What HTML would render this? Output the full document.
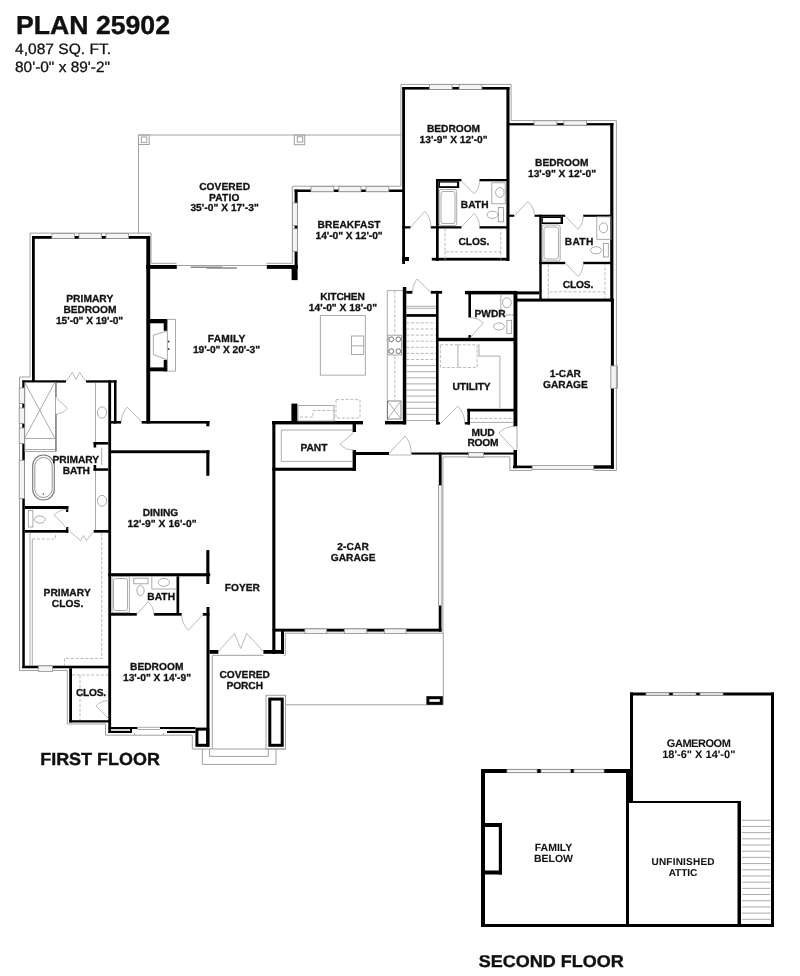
<!DOCTYPE html>
<html><head><meta charset="utf-8">
<style>
html,body{margin:0;padding:0;background:#fff;width:800px;height:976px;overflow:hidden}
svg{display:block;will-change:transform}
text{font-family:"Liberation Sans",sans-serif;fill:#111;text-rendering:geometricPrecision}
.b{font-weight:bold;stroke:#111;stroke-width:0.4}
.lbl{font-weight:bold;stroke:#111;stroke-width:0.3}
.w{fill:none;stroke:#000;stroke-width:3}
.o{fill:none;stroke:#a0a0a0;stroke-width:1}
.win{fill:#f4f4f4;stroke:#909090;stroke-width:0.8}
.t{fill:none;stroke:#959595;stroke-width:0.8}
.dr{fill:none;stroke:#a4a4a4;stroke-width:0.75}
.ds{fill:none;stroke:#a8a8a8;stroke-width:0.8;stroke-dasharray:3 1.8}
</style></head><body>
<svg width="800" height="976" viewBox="0 0 800 976">
<text x="16.00" y="33.60" class="b" font-size="26" text-anchor="start" textLength="154" lengthAdjust="spacingAndGlyphs">PLAN 25902</text>
<text x="15" y="54.4" font-size="15" style="stroke:#111;stroke-width:0.3" textLength="96" lengthAdjust="spacingAndGlyphs">4,087 SQ. FT.</text>
<text x="15" y="72.4" font-size="15" style="stroke:#111;stroke-width:0.3" textLength="95" lengthAdjust="spacingAndGlyphs">80'-0" x 89'-2"</text>
<rect x="481.00" y="769.00" width="149.00" height="4.00" fill="#000"/>
<rect x="481.00" y="769.00" width="4.00" height="158.00" fill="#000"/>
<rect x="481.00" y="924.00" width="293.00" height="3.00" fill="#000"/>
<rect x="626.00" y="769.00" width="7.00" height="32.00" fill="#000"/>
<rect x="626.00" y="801.00" width="3.00" height="126.00" fill="#000"/>
<rect x="630.00" y="692.50" width="3.00" height="108.50" fill="#000"/>
<rect x="630.00" y="692.50" width="144.00" height="3.00" fill="#000"/>
<rect x="771.00" y="692.50" width="3.00" height="234.50" fill="#000"/>
<rect x="626.00" y="801.00" width="115.00" height="2.00" fill="#000"/>
<rect x="737.50" y="801.00" width="3.50" height="126.00" fill="#000"/>
<rect x="485.00" y="823.00" width="17.00" height="4.00" fill="#000"/>
<rect x="498.80" y="823.00" width="3.20" height="51.50" fill="#000"/>
<rect x="485.00" y="870.50" width="17.00" height="4.00" fill="#000"/>
<rect x="507.00" y="769.30" width="30.00" height="3.40" class="win"/>
<rect x="541.00" y="769.30" width="29.50" height="3.40" class="win"/>
<rect x="574.00" y="769.30" width="30.00" height="3.40" class="win"/>
<rect x="646.00" y="692.80" width="23.00" height="2.40" class="win"/>
<rect x="673.00" y="692.80" width="23.00" height="2.40" class="win"/>
<rect x="700.00" y="692.80" width="23.00" height="2.40" class="win"/>
<line class="t" x1="742.00" y1="820.25" x2="770.50" y2="820.25"/>
<line class="t" x1="742.00" y1="826.44" x2="770.50" y2="826.44"/>
<line class="t" x1="742.00" y1="832.63" x2="770.50" y2="832.63"/>
<line class="t" x1="742.00" y1="838.82" x2="770.50" y2="838.82"/>
<line class="t" x1="742.00" y1="845.01" x2="770.50" y2="845.01"/>
<line class="t" x1="742.00" y1="851.20" x2="770.50" y2="851.20"/>
<line class="t" x1="742.00" y1="857.39" x2="770.50" y2="857.39"/>
<line class="t" x1="742.00" y1="863.58" x2="770.50" y2="863.58"/>
<line class="t" x1="742.00" y1="869.77" x2="770.50" y2="869.77"/>
<line class="t" x1="742.00" y1="875.96" x2="770.50" y2="875.96"/>
<line class="t" x1="742.00" y1="882.15" x2="770.50" y2="882.15"/>
<line class="t" x1="742.00" y1="888.34" x2="770.50" y2="888.34"/>
<line class="t" x1="742.00" y1="894.53" x2="770.50" y2="894.53"/>
<line class="t" x1="742.00" y1="900.72" x2="770.50" y2="900.72"/>
<line class="t" x1="742.00" y1="906.91" x2="770.50" y2="906.91"/>
<line class="t" x1="742.00" y1="913.10" x2="770.50" y2="913.10"/>
<line class="t" x1="742.00" y1="919.29" x2="770.50" y2="919.29"/>
<text x="553.50" y="851.00" class="lbl" font-size="10.5" text-anchor="middle" style="stroke-width:0.05">FAMILY</text>
<text x="553.50" y="862.20" class="lbl" font-size="10.5" text-anchor="middle" style="stroke-width:0.05">BELOW</text>
<text x="683.00" y="865.00" class="lbl" font-size="10.0" text-anchor="middle" textLength="63" lengthAdjust="spacing" style="stroke-width:0.05">UNFINISHED</text>
<text x="683.00" y="876.20" class="lbl" font-size="10.0" text-anchor="middle" style="stroke-width:0.05">ATTIC</text>
<text x="698.80" y="746.70" class="lbl" font-size="11.0" text-anchor="middle" textLength="64" lengthAdjust="spacing" style="stroke-width:0.05">GAMEROOM</text>
<text x="698.80" y="757.70" class="lbl" font-size="11.0" text-anchor="middle" style="stroke-width:0.05">18'-6" X 14'-0"</text>
<text x="478.80" y="967.00" class="b" font-size="17" text-anchor="start" textLength="145" lengthAdjust="spacingAndGlyphs">SECOND FLOOR</text>
<path class="o" d="M400.90 186.00 L400.90 84.40 L511.10 84.40 L511.10 120.60 L616.40 120.60 L616.40 300.00"/>
<rect x="402.20" y="87.00" width="107.30" height="2.60" fill="#000"/>
<rect x="402.20" y="87.00" width="2.80" height="177.00" fill="#000"/>
<rect x="402.20" y="257.00" width="6.80" height="4.00" fill="#000"/>
<rect x="506.40" y="87.00" width="3.10" height="174.00" fill="#000"/>
<rect x="429.40" y="84.60" width="22.70" height="4.80" class="win"/>
<rect x="459.10" y="84.60" width="22.80" height="4.80" class="win"/>
<text x="453.50" y="132.20" class="lbl" font-size="10.2" text-anchor="middle" textLength="53.1" lengthAdjust="spacing">BEDROOM</text>
<text x="453.60" y="143.20" class="lbl" font-size="10.2" text-anchor="middle" textLength="68" lengthAdjust="spacing">13'-9" X 12'-0"</text>
<rect x="436.00" y="179.00" width="2.70" height="82.00" fill="#000"/>
<rect x="436.00" y="179.00" width="25.50" height="2.30" fill="#000"/>
<rect x="479.50" y="179.00" width="29.50" height="2.30" fill="#000"/>
<rect x="402.20" y="226.20" width="8.30" height="2.30" fill="#000"/>
<rect x="430.80" y="226.20" width="30.70" height="2.30" fill="#000"/>
<rect x="479.50" y="226.20" width="29.50" height="2.30" fill="#000"/>
<rect x="431.80" y="257.80" width="77.20" height="2.80" fill="#000"/>
<rect x="438.70" y="181.30" width="20.50" height="6.70" fill="#000"/>
<rect x="440.00" y="182.60" width="17.00" height="3.60" fill="#fff"/>
<rect x="439.2" y="189.5" width="17.5" height="36" rx="2" class="t"/>
<rect x="441" y="191.5" width="14" height="32" rx="2" class="t"/>
<rect x="491.8" y="182.8" width="13.4" height="21" class="t"/>
<ellipse cx="499.8" cy="192.5" rx="4.2" ry="5" class="t"/>
<rect x="498.3" y="207.5" width="5.2" height="14.3" class="t"/>
<ellipse cx="492.5" cy="214.8" rx="5.5" ry="3.6" class="t"/>
<path class="dr" d="M461.50 181.00 L474.20 193.70 A17.96 17.96 0 0 0 479.50 181.00"/>
<path class="dr" d="M461.50 227.00 L474.20 213.50 A18.53 18.53 0 0 1 479.50 227.00"/>
<path class="dr" d="M410.50 227.30 L424.80 211.30 A21.46 21.46 0 0 1 430.80 227.30"/>
<path class="ds" d="M445 228.5 V251.8 H500.8 V228.5 M445 251.8 V260 M500.8 251.8 V260"/>
<text x="474.60" y="207.70" class="lbl" font-size="10.2" text-anchor="middle" textLength="27.8" lengthAdjust="spacing">BATH</text>
<text x="473.90" y="244.90" class="lbl" font-size="10.2" text-anchor="middle" textLength="30.8" lengthAdjust="spacing">CLOS.</text>
<rect x="507.00" y="123.10" width="106.40" height="2.30" fill="#000"/>
<rect x="610.20" y="123.10" width="3.20" height="178.50" fill="#000"/>
<rect x="534.10" y="120.80" width="22.80" height="4.40" class="win"/>
<rect x="563.90" y="120.80" width="22.70" height="4.40" class="win"/>
<text x="561.70" y="166.10" class="lbl" font-size="10.2" text-anchor="middle" textLength="53.4" lengthAdjust="spacing">BEDROOM</text>
<text x="562.00" y="177.00" class="lbl" font-size="10.2" text-anchor="middle" textLength="68" lengthAdjust="spacing">13'-9" X 12'-0"</text>
<rect x="507.00" y="214.70" width="7.20" height="2.10" fill="#000"/>
<rect x="534.50" y="214.70" width="30.70" height="2.10" fill="#000"/>
<rect x="583.20" y="214.70" width="29.80" height="2.10" fill="#000"/>
<rect x="539.30" y="214.70" width="2.40" height="86.30" fill="#000"/>
<rect x="539.30" y="261.80" width="25.90" height="2.40" fill="#000"/>
<rect x="583.20" y="261.80" width="29.80" height="2.40" fill="#000"/>
<rect x="541.70" y="216.80" width="21.30" height="7.20" fill="#000"/>
<rect x="542.80" y="218.00" width="17.80" height="4.40" fill="#fff"/>
<rect x="542.2" y="225" width="18" height="36" rx="2" class="t"/>
<rect x="544" y="227" width="14.4" height="32" rx="2" class="t"/>
<rect x="596.8" y="216.8" width="14.2" height="22.5" class="t"/>
<ellipse cx="603.5" cy="227.8" rx="4.2" ry="5" class="t"/>
<rect x="603.5" y="243.5" width="4.8" height="13.5" class="t"/>
<ellipse cx="596" cy="250.3" rx="5.5" ry="3.6" class="t"/>
<path class="dr" d="M565.20 216.00 L578.00 229.30 A18.46 18.46 0 0 0 583.20 216.00"/>
<path class="dr" d="M565.20 263.00 L578.00 276.50 A18.60 18.60 0 0 0 583.20 263.00"/>
<path class="dr" d="M514.20 216.00 L527.80 201.50 A19.88 19.88 0 0 1 534.50 216.00"/>
<path class="ds" d="M548.3 264.2 V291.8 H605 V264.2 M548.3 291.8 V299 M605 291.8 V299"/>
<text x="579.00" y="245.20" class="lbl" font-size="10.2" text-anchor="middle" textLength="28.5" lengthAdjust="spacing">BATH</text>
<text x="578.00" y="287.50" class="lbl" font-size="10.2" text-anchor="middle" textLength="30.6" lengthAdjust="spacing">CLOS.</text>
<rect x="465.50" y="291.40" width="73.80" height="3.00" fill="#000"/>
<rect x="515.00" y="298.60" width="98.40" height="3.00" fill="#000"/>
<path class="o" d="M138.50 233.20 L138.50 135.00 L401.00 135.00"/>
<rect x="138.5" y="135" width="10.7" height="9.5" class="o"/>
<rect x="141.3" y="137" width="5.5" height="5.5" class="o"/>
<rect x="294.3" y="135" width="10.4" height="9.7" class="o"/>
<rect x="297.3" y="136.8" width="5.5" height="5.3" class="o"/>
<path class="o" d="M30.00 377.00 L30.00 233.10 L151.00 233.10 L151.00 263.30 L176.50 263.30"/>
<path class="o" d="M266.50 263.30 L292.30 263.30 L292.30 186.20 L400.90 186.20"/>
<rect x="32.00" y="236.00" width="118.00" height="2.80" fill="#000"/>
<rect x="32.00" y="236.00" width="2.80" height="146.00" fill="#000"/>
<rect x="146.30" y="236.00" width="3.90" height="187.50" fill="#000"/>
<rect x="51.90" y="233.40" width="22.50" height="5.20" class="win"/>
<rect x="79.00" y="233.40" width="22.60" height="5.20" class="win"/>
<rect x="106.00" y="233.40" width="22.50" height="5.20" class="win"/>
<text x="89.70" y="301.70" class="lbl" font-size="10.2" text-anchor="middle" textLength="47" lengthAdjust="spacing">PRIMARY</text>
<text x="89.90" y="312.50" class="lbl" font-size="10.2" text-anchor="middle" textLength="53" lengthAdjust="spacing">BEDROOM</text>
<text x="89.60" y="323.50" class="lbl" font-size="10.2" text-anchor="middle" textLength="67.2" lengthAdjust="spacing">15'-0" X 19'-0"</text>
<rect x="146.30" y="265.00" width="30.50" height="3.90" fill="#000"/>
<rect x="266.80" y="265.00" width="30.80" height="3.90" fill="#000"/>
<rect x="291.60" y="265.00" width="6.00" height="15.10" fill="#000"/>
<line class="o" x1="176.80" y1="265.50" x2="266.80" y2="265.50"/>
<path d="M190.8 267.2 H222.3 M206.5 268 H236.9" stroke="#8a8a8a" stroke-width="1.4" fill="none"/>
<rect x="294.60" y="189.50" width="110.40" height="2.50" fill="#000"/>
<rect x="294.60" y="189.50" width="3.00" height="78.50" fill="#000"/>
<rect x="311.00" y="186.60" width="22.80" height="5.20" class="win"/>
<rect x="338.80" y="186.60" width="22.20" height="5.20" class="win"/>
<rect x="366.00" y="186.60" width="22.80" height="5.20" class="win"/>
<rect x="292.50" y="203.00" width="4.90" height="22.50" class="win"/>
<rect x="292.50" y="228.80" width="4.90" height="22.50" class="win"/>
<text x="349.10" y="228.30" class="lbl" font-size="10.2" text-anchor="middle" textLength="63" lengthAdjust="spacing">BREAKFAST</text>
<text x="349.10" y="239.30" class="lbl" font-size="10.2" text-anchor="middle" textLength="67" lengthAdjust="spacing">14'-0" X 12'-0"</text>
<text x="224.60" y="190.00" class="lbl" font-size="10.2" text-anchor="middle" textLength="50.9" lengthAdjust="spacing">COVERED</text>
<text x="224.20" y="201.00" class="lbl" font-size="10.2" text-anchor="middle" textLength="30.4" lengthAdjust="spacing">PATIO</text>
<text x="224.60" y="211.40" class="lbl" font-size="10.2" text-anchor="middle" textLength="68.4" lengthAdjust="spacing">35'-0" X 17'-3"</text>
<rect x="150.00" y="319.00" width="17.30" height="4.30" fill="#000"/>
<rect x="150.00" y="367.40" width="17.30" height="3.90" fill="#000"/>
<rect x="163.70" y="319.00" width="3.60" height="11.80" fill="#000"/>
<rect x="163.70" y="359.90" width="3.60" height="11.40" fill="#000"/>
<rect x="167.3" y="319.3" width="8.2" height="51.8" class="t"/>
<path class="t" d="M167.3 331 L153.4 335.3 V354.6 L167.3 359.9"/>
<circle cx="168.6" cy="341.5" r="0.9" fill="#333"/><circle cx="168.6" cy="349" r="0.9" fill="#333"/>
<text x="226.50" y="341.70" class="lbl" font-size="10.2" text-anchor="middle" textLength="37.5" lengthAdjust="spacing">FAMILY</text>
<text x="226.50" y="352.50" class="lbl" font-size="10.2" text-anchor="middle" textLength="67" lengthAdjust="spacing">19'-0" X 20'-3"</text>
<rect x="111.00" y="421.00" width="10.00" height="2.60" fill="#000"/>
<rect x="141.60" y="421.00" width="67.80" height="2.60" fill="#000"/>
<rect x="206.30" y="421.00" width="3.10" height="5.30" fill="#000"/>
<path class="dr" d="M141.60 422.00 L127.30 407.10 A20.65 20.65 0 0 0 121.40 422.00"/>
<rect x="111.00" y="450.30" width="98.40" height="2.90" fill="#000"/>
<rect x="206.30" y="450.30" width="3.10" height="25.50" fill="#000"/>
<rect x="206.30" y="550.10" width="3.10" height="33.90" fill="#000"/>
<rect x="108.30" y="573.20" width="101.90" height="3.10" fill="#000"/>
<text x="160.50" y="515.70" class="lbl" font-size="10.2" text-anchor="middle" textLength="35.6" lengthAdjust="spacing">DINING</text>
<text x="162.00" y="527.20" class="lbl" font-size="10.2" text-anchor="middle" textLength="69" lengthAdjust="spacing">12'-9" X 16'-0"</text>
<text x="242.30" y="591.20" class="lbl" font-size="10.2" text-anchor="middle" textLength="35" lengthAdjust="spacing">FOYER</text>
<path class="o" d="M30.00 377.00 L19.50 377.00 L19.50 670.50 L67.30 670.50 L67.30 724.00 L105.50 724.00 L105.50 735.20 L192.30 735.20"/>
<rect x="22.50" y="380.30" width="43.50" height="2.30" fill="#000"/>
<rect x="86.00" y="380.30" width="30.50" height="2.30" fill="#000"/>
<rect x="22.30" y="380.30" width="2.50" height="287.20" fill="#000"/>
<rect x="19.20" y="388.00" width="5.40" height="15.50" class="win"/>
<rect x="19.20" y="408.00" width="5.40" height="15.50" class="win"/>
<rect x="19.20" y="428.00" width="5.40" height="15.50" class="win"/>
<rect x="19.20" y="460.30" width="5.40" height="38.20" class="win"/>
<rect x="108.30" y="380.30" width="2.80" height="352.70" fill="#000"/>
<rect x="114.00" y="380.30" width="2.50" height="43.20" fill="#000"/>
<path class="dr" d="M66 381.5 L72.3 372.3 L76 379.5 L79.7 372.3 L86 381.5"/>
<rect x="24.8" y="382.6" width="30.7" height="68.9" class="t"/>
<path class="t" d="M25 383 L54.5 437.5 M54.5 383 L25 437.5 M24.8 438.5 H55.5 M24.8 449.5 H56.5"/>
<path d="M56 382.6 V397 M56 414 V451.5" stroke="#8a8a8a" stroke-width="1.6" fill="none"/>
<path class="dr" d="M56.00 397.50 L67.50 408.50 A15.91 15.91 0 0 1 56.00 414.00"/>
<path class="t" d="M95.5 382.6 V442"/>
<ellipse cx="102" cy="412.5" rx="4.6" ry="5.6" class="t"/>
<rect x="93.60" y="442.00" width="14.70" height="2.60" fill="#000"/>
<rect x="93.60" y="442.00" width="2.60" height="5.50" fill="#000"/>
<rect x="93.60" y="468.30" width="14.70" height="2.50" fill="#000"/>
<rect x="93.60" y="465.00" width="2.60" height="5.80" fill="#000"/>
<path class="t" d="M101.7 447.5 V465 M95.5 470.8 V530.7"/>
<ellipse cx="102" cy="500.8" rx="4.6" ry="5.4" class="t"/>
<rect x="32.7" y="455" width="21.6" height="45" rx="10.8" class="t" style="stroke-width:1.1;stroke:#777"/>
<rect x="34.8" y="457.5" width="17.4" height="40" rx="8.7" class="t" style="stroke:#777"/>
<circle cx="43.4" cy="494" r="0.8" fill="#444"/>
<text x="75.80" y="463.00" class="lbl" font-size="10.2" text-anchor="middle" textLength="46.5" lengthAdjust="spacing">PRIMARY</text>
<text x="76.30" y="474.20" class="lbl" font-size="10.2" text-anchor="middle" textLength="27.3" lengthAdjust="spacing">BATH</text>
<rect x="24.80" y="506.00" width="43.50" height="3.00" fill="#000"/>
<rect x="66.00" y="506.00" width="2.30" height="6.00" fill="#000"/>
<rect x="24.80" y="530.00" width="43.50" height="2.70" fill="#000"/>
<rect x="66.00" y="527.00" width="2.30" height="5.70" fill="#000"/>
<rect x="93.70" y="530.00" width="17.30" height="2.70" fill="#000"/>
<rect x="28.3" y="510.5" width="4.6" height="16.5" class="t"/>
<ellipse cx="39.8" cy="519.5" rx="5.4" ry="3.6" class="t"/>
<path class="dr" d="M67.50 528.80 L54.00 515.00 A19.31 19.31 0 0 1 67.50 509.30"/>
<path class="dr" d="M69.8 531.5 L80.5 540.5 L83.5 535.5 L86.5 540.5 L93.5 531.5"/>
<rect x="22.30" y="665.70" width="88.70" height="2.60" fill="#000"/>
<rect x="38.30" y="665.90" width="14.20" height="5.50" class="win"/>
<path class="t" d="M30 532.7 V665.7 M32.3 539 V665.7"/>
<path class="ds" d="M32.3 539 H55.5 V532.7 M101.7 532.7 V658.5 H64.5 V665.7"/>
<text x="67.10" y="596.00" class="lbl" font-size="10.2" text-anchor="middle" textLength="47.2" lengthAdjust="spacing">PRIMARY</text>
<text x="67.50" y="607.20" class="lbl" font-size="10.2" text-anchor="middle" textLength="31.5" lengthAdjust="spacing">CLOS.</text>
<rect x="69.20" y="668.30" width="2.80" height="54.10" fill="#000"/>
<rect x="69.20" y="720.20" width="40.80" height="2.30" fill="#000"/>
<path class="ds" d="M72 675 H108.3 M80 675 V720.2"/>
<path class="dr" d="M109.00 719.00 L96.00 706.00 A18.38 18.38 0 0 1 109.00 700.50"/>
<text x="91.00" y="695.70" class="lbl" font-size="10.2" text-anchor="middle" textLength="30" lengthAdjust="spacing">CLOS.</text>
<rect x="108.50" y="727.00" width="29.00" height="2.00" fill="#000"/>
<rect x="108.50" y="731.00" width="23.50" height="2.00" fill="#000"/>
<rect x="130.00" y="727.00" width="2.00" height="6.00" fill="#000"/>
<path class="t" d="M110.5 730 H129.5 M137.5 727.3 H160 M137.5 729.5 H160 M134.5 733 V735 M163.5 733 V735"/>
<rect x="160.00" y="727.00" width="35.40" height="2.00" fill="#000"/>
<rect x="167.00" y="731.00" width="28.40" height="2.00" fill="#000"/>
<path class="t" d="M169 730 H195"/>
<text x="156.70" y="669.70" class="lbl" font-size="10.2" text-anchor="middle" textLength="53.4" lengthAdjust="spacing">BEDROOM</text>
<text x="157.00" y="680.70" class="lbl" font-size="10.2" text-anchor="middle" textLength="68" lengthAdjust="spacing">13'-0" X 14'-9"</text>
<rect x="176.50" y="576.30" width="2.70" height="38.20" fill="#000"/>
<rect x="111.00" y="613.00" width="25.80" height="2.70" fill="#000"/>
<rect x="154.00" y="613.00" width="27.80" height="2.70" fill="#000"/>
<rect x="202.80" y="613.00" width="6.70" height="2.70" fill="#000"/>
<rect x="206.50" y="607.00" width="3.00" height="139.80" fill="#000"/>
<rect x="112" y="576.5" width="17.3" height="36.2" class="t"/>
<rect x="113.5" y="578.5" width="14" height="32" rx="2" class="t"/>
<rect x="133.8" y="578.2" width="14.2" height="5.6" class="t"/>
<ellipse cx="140.5" cy="590.5" rx="3.6" ry="5.2" class="t"/>
<path class="t" d="M151.8 576.3 V589 H176.5"/>
<ellipse cx="163.8" cy="582.3" rx="5.6" ry="4" class="t"/>
<path class="dr" d="M136.80 614.30 L148.00 601.80 A16.78 16.78 0 0 1 154.00 614.30"/>
<path class="dr" d="M202.80 614.50 L188.50 630.30 A21.31 21.31 0 0 1 181.80 614.50"/>
<text x="161.10" y="600.00" class="lbl" font-size="10.2" text-anchor="middle" textLength="27.8" lengthAdjust="spacing">BATH</text>
<rect x="209.50" y="650.00" width="8.90" height="3.80" fill="#000"/>
<rect x="263.40" y="650.00" width="20.40" height="3.80" fill="#000"/>
<rect x="272.30" y="421.00" width="3.10" height="232.80" fill="#000"/>
<rect x="281.00" y="630.80" width="3.00" height="23.00" fill="#000"/>
<path class="dr" d="M218.4 651.5 L234.5 633.5 L240.7 648.5 L246.8 633.5 L263.4 651.5"/>
<path class="o" d="M212.30 749.00 L212.30 655.30 L263.40 655.30"/>
<path class="o" d="M283.80 655.30 L285.30 655.30 L285.30 633.20 L443.30 633.20 L443.30 704.80 L285.50 704.80"/>
<rect x="196.9" y="729.1" width="10.8" height="16.2" fill="none" stroke="#000" stroke-width="3"/>
<rect x="269.8" y="699.1" width="12.4" height="46.2" fill="none" stroke="#000" stroke-width="3"/>
<rect x="266" y="695.3" width="19.5" height="53.7" class="o"/>
<path class="o" d="M192.30 735.20 L192.30 749.00 L285.50 749.00"/>
<path class="o" d="M209.6 749 V756.4 H268.3 V749 M202.3 749 V764.4 H276 V749"/>
<rect x="427.9" y="697.7" width="13.4" height="5.6" fill="none" stroke="#000" stroke-width="3"/>
<text x="244.70" y="677.70" class="lbl" font-size="10.2" text-anchor="middle" textLength="50.4" lengthAdjust="spacing">COVERED</text>
<text x="244.75" y="688.80" class="lbl" font-size="10.2" text-anchor="middle" textLength="36.5" lengthAdjust="spacing">PORCH</text>
<text x="40.20" y="764.50" class="b" font-size="17.5" text-anchor="start" textLength="119.7" lengthAdjust="spacingAndGlyphs">FIRST FLOOR</text>
<rect x="272.70" y="628.70" width="168.80" height="2.90" fill="#000"/>
<rect x="304.90" y="628.90" width="21.80" height="4.70" class="win"/>
<rect x="344.30" y="628.90" width="22.50" height="4.70" class="win"/>
<rect x="384.30" y="628.90" width="21.80" height="4.70" class="win"/>
<rect x="438.85" y="452.50" width="2.80" height="32.90" fill="#000"/>
<rect x="438.75" y="605.30" width="2.75" height="26.30" fill="#000"/>
<rect x="438.50" y="485.40" width="3.40" height="119.90" class="win"/>
<rect x="356.00" y="452.00" width="33.00" height="3.00" fill="#000"/>
<rect x="411.40" y="452.50" width="102.40" height="2.10" fill="#000"/>
<rect x="468.60" y="452.70" width="15.00" height="4.90" class="win"/>
<path class="o" d="M442.90 456.90 L442.90 633.20"/>
<path class="o" d="M442.90 456.90 L509.90 456.90 L509.90 470.50"/>
<path class="dr" d="M389.00 453.50 L405.00 436.00 A23.71 23.71 0 0 1 411.00 453.50"/>
<line class="dr" x1="389.00" y1="455.00" x2="411.00" y2="455.00"/>
<text x="353.10" y="550.20" class="lbl" font-size="10.2" text-anchor="middle" textLength="31.7" lengthAdjust="spacing">2-CAR</text>
<text x="353.10" y="560.70" class="lbl" font-size="10.2" text-anchor="middle" textLength="44.7" lengthAdjust="spacing">GARAGE</text>
<rect x="272.00" y="421.00" width="91.00" height="3.40" fill="#000"/>
<rect x="291.40" y="403.60" width="6.00" height="20.40" fill="#000"/>
<rect x="352.60" y="421.00" width="3.40" height="11.00" fill="#000"/>
<rect x="352.60" y="450.00" width="3.40" height="20.80" fill="#000"/>
<rect x="272.30" y="467.70" width="83.70" height="3.10" fill="#000"/>
<path class="t" d="M352.6 432 V430 H281.3 V461.4 H352.6 V450"/>
<path class="dr" d="M354.00 432.30 L340.00 444.30 A18.44 18.44 0 0 0 354.00 450.00"/>
<text x="314.00" y="451.30" class="lbl" font-size="10.2" text-anchor="middle" textLength="26.8" lengthAdjust="spacing">PANT</text>
<rect x="298" y="405.6" width="36" height="15.4" class="t"/>
<path class="ds" d="M300 417 H313 V410.5 H334"/>
<rect x="336" y="399.6" width="24" height="18.4" class="ds"/>
<rect x="320.3" y="315.4" width="45" height="59.7" class="t"/>
<rect x="351.5" y="336" width="12.2" height="18.4" class="t"/>
<path class="t" d="M351.5 345.8 H363.7"/>
<path class="t" d="M387.3 290.6 V424 M387.3 290.6 H402.8"/>
<path class="ds" d="M394.8 290.6 V335 M394.8 356 V400"/>
<rect x="388" y="335.2" width="13.5" height="19.8" class="t"/>
<circle cx="391.3" cy="339.3" r="2.4" class="t" style="stroke:#555"/>
<circle cx="398.3" cy="339.3" r="2.4" class="t" style="stroke:#555"/>
<circle cx="391.3" cy="351.2" r="2.4" class="t" style="stroke:#555"/>
<circle cx="398.3" cy="351.2" r="2.4" class="t" style="stroke:#555"/>
<rect x="387.5" y="401" width="13.5" height="18" class="t" style="stroke:#666"/>
<path class="t" d="M387.5 401 L401 419 M401 401 L387.5 419"/>
<rect x="385.00" y="421.00" width="21.00" height="3.40" fill="#000"/>
<text x="342.60" y="299.50" class="lbl" font-size="10.2" text-anchor="middle" textLength="44.5" lengthAdjust="spacing">KITCHEN</text>
<text x="343.00" y="310.60" class="lbl" font-size="10.2" text-anchor="middle" textLength="68.3" lengthAdjust="spacing">14'-0" X 18'-0"</text>
<rect x="402.80" y="287.00" width="3.50" height="137.40" fill="#000"/>
<rect x="406.30" y="290.90" width="6.10" height="2.80" fill="#000"/>
<rect x="430.80" y="290.90" width="11.30" height="2.80" fill="#000"/>
<rect x="436.00" y="290.90" width="2.60" height="133.50" fill="#000"/>
<rect x="436.00" y="422.00" width="4.00" height="2.40" fill="#000"/>
<rect x="406.30" y="314.10" width="29.70" height="2.70" fill="#000"/>
<path class="t" d="M406.3 306.3 H436 M406.3 308.3 H436"/>
<path class="dr" d="M430.80 292.30 L417.00 279.00 A19.17 19.17 0 0 0 412.40 292.30"/>
<line x1="406.3" y1="322.90" x2="436" y2="322.90" class="ds"/>
<line x1="406.3" y1="329.00" x2="436" y2="329.00" class="ds"/>
<line x1="406.3" y1="335.10" x2="436" y2="335.10" class="ds"/>
<line x1="406.3" y1="341.20" x2="436" y2="341.20" class="ds"/>
<line x1="406.3" y1="347.30" x2="436" y2="347.30" class="ds"/>
<line x1="406.3" y1="353.40" x2="436" y2="353.40" class="ds"/>
<line x1="406.3" y1="359.50" x2="436" y2="359.50" class="ds"/>
<line class="t" x1="406.30" y1="365.60" x2="436.00" y2="365.60"/>
<line class="t" x1="406.30" y1="371.70" x2="436.00" y2="371.70"/>
<line class="t" x1="406.30" y1="377.80" x2="436.00" y2="377.80"/>
<line class="t" x1="406.30" y1="383.90" x2="436.00" y2="383.90"/>
<line class="t" x1="406.30" y1="390.00" x2="436.00" y2="390.00"/>
<line class="t" x1="406.30" y1="396.10" x2="436.00" y2="396.10"/>
<line class="t" x1="406.30" y1="402.20" x2="436.00" y2="402.20"/>
<line class="t" x1="406.30" y1="408.30" x2="436.00" y2="408.30"/>
<line class="t" x1="406.30" y1="414.40" x2="436.00" y2="414.40"/>
<line class="t" x1="406.30" y1="420.50" x2="436.00" y2="420.50"/>
<rect x="464.90" y="290.90" width="52.10" height="3.10" fill="#000"/>
<rect x="468.40" y="290.90" width="2.60" height="26.70" fill="#000"/>
<rect x="468.40" y="335.10" width="2.60" height="5.90" fill="#000"/>
<rect x="436.00" y="337.80" width="81.00" height="3.40" fill="#000"/>
<path class="t" d="M500.8 294 V315 H514"/>
<ellipse cx="506.9" cy="302.8" rx="4.4" ry="5" class="t"/>
<rect x="506.9" y="320.3" width="4.7" height="13.1" class="t"/>
<ellipse cx="499" cy="326.4" rx="5.4" ry="3.6" class="t"/>
<path class="dr" d="M470.00 338.00 L483.30 322.90 A20.12 20.12 0 0 0 470.00 317.60"/>
<text x="490.10" y="316.80" class="lbl" font-size="10.2" text-anchor="middle" textLength="31.1" lengthAdjust="spacing">PWDR</text>
<rect x="440.4" y="344.8" width="17.5" height="22.7" class="ds"/>
<rect x="457.9" y="344.8" width="19.2" height="22.7" class="ds"/>
<path class="t" d="M478.9 344 V356.1 H499.9 V407.8"/>
<text x="471.60" y="390.30" class="lbl" font-size="10.2" text-anchor="middle" textLength="38" lengthAdjust="spacing">UTILITY</text>
<rect x="467.40" y="408.80" width="49.60" height="2.70" fill="#000"/>
<rect x="467.40" y="408.80" width="2.60" height="15.70" fill="#000"/>
<rect x="464.80" y="422.00" width="5.20" height="2.50" fill="#000"/>
<path class="ds" d="M470 418.4 H513"/>
<path class="t" d="M470 422.4 H513"/>
<path class="dr" d="M440.00 424.00 L457.80 406.10 A25.24 25.24 0 0 1 464.80 424.00"/>
<path class="dr" d="M514.50 450.00 L498.90 432.90 A23.15 23.15 0 0 1 514.50 426.30"/>
<text x="483.00" y="435.60" class="lbl" font-size="10.2" text-anchor="middle" textLength="23.1" lengthAdjust="spacing">MUD</text>
<text x="482.90" y="446.10" class="lbl" font-size="10.2" text-anchor="middle" textLength="31" lengthAdjust="spacing">ROOM</text>
<rect x="513.50" y="291.40" width="3.90" height="134.90" fill="#000"/>
<rect x="513.50" y="450.00" width="3.50" height="18.20" fill="#000"/>
<rect x="513.00" y="465.60" width="20.00" height="2.60" fill="#000"/>
<text x="565.30" y="376.50" class="lbl" font-size="10.2" text-anchor="middle" textLength="31.2" lengthAdjust="spacing">1-CAR</text>
<text x="565.40" y="387.70" class="lbl" font-size="10.2" text-anchor="middle" textLength="44.6" lengthAdjust="spacing">GARAGE</text>
<rect x="610.90" y="298.70" width="3.00" height="170.00" fill="#000"/>
<rect x="610.90" y="365.90" width="6.60" height="22.40" class="win"/>
<rect x="593.40" y="465.30" width="20.50" height="3.40" fill="#000"/>
<rect x="532.10" y="465.40" width="61.30" height="4.20" class="win"/>
<path class="o" d="M509.70 470.50 L532.10 470.50"/>
<path class="o" d="M593.40 470.50 L616.40 470.50 L616.40 300.00"/>
<line class="t" x1="517.00" y1="426.30" x2="517.00" y2="450.00"/>
</svg>
</body></html>
